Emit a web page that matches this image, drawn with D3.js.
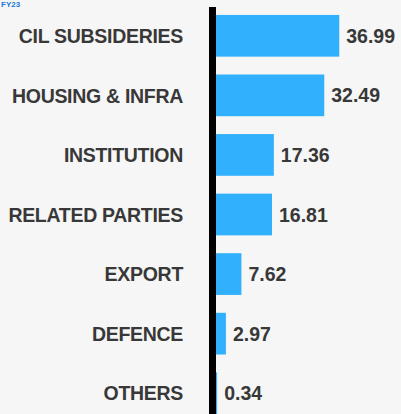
<!DOCTYPE html>
<html><head><meta charset="utf-8">
<script src="https://cdn.jsdelivr.net/npm/d3@7"></script>
<style>
html,body{margin:0;padding:0;background:#f6f6f6;}
svg{display:block;}
</style></head>
<body>
<script>
const categories = ["CIL SUBSIDERIES","HOUSING & INFRA","INSTITUTION","RELATED PARTIES","EXPORT","DEFENCE","OTHERS"];
const values = [36.99, 32.49, 17.36, 16.81, 7.62, 2.97, 0.34];
const valueLabels = ["36.99","32.49","17.36","16.81","7.62","2.97","0.34"];
const titleText = "FY23";

const W = 401, H = 414;
const svg = d3.select("body").append("svg").attr("width", W).attr("height", H);
svg.append("rect").attr("width", W).attr("height", H).attr("fill", "#f6f6f6");

const x0 = 216;
const x = d3.scaleLinear().domain([0, 37]).range([x0, x0 + 123.3]);
const y = d3.scaleBand().domain(categories).range([6, 423]).paddingInner(0.3).paddingOuter(0.15);

svg.append("text").attr("x", 1).attr("y", 7).attr("fill", "#1a7ad4")
  .attr("font-family", "Liberation Sans, Arial, sans-serif").attr("font-weight", "bold")
  .attr("font-size", 8).text(titleText);

svg.selectAll("rect.bar").data(values).join("rect").attr("class","bar")
  .attr("x", x(0)).attr("y", (d,i)=>y(categories[i]))
  .attr("width", d=>x(d)-x(0)).attr("height", y.bandwidth())
  .attr("fill", "#30b0fd");

svg.append("line").attr("x1", 212.5).attr("x2", 212.5).attr("y1", 7).attr("y2", H)
  .attr("stroke", "#000").attr("stroke-width", 7);

svg.selectAll("text.cat").data(categories).join("text").attr("class","cat")
  .attr("x", 183).attr("y", d=>y(d)+y.bandwidth()/2)
  .attr("dy", "0.37em").attr("text-anchor", "end")
  .attr("font-family", "Liberation Sans, Arial, sans-serif").attr("font-weight", "bold")
  .attr("font-size", 19.5).attr("letter-spacing", -0.3).attr("fill", "#383838")
  .text(d=>d);

svg.selectAll("text.val").data(values).join("text").attr("class","val")
  .attr("x", d=>x(d)+7).attr("y", (d,i)=>y(categories[i])+y.bandwidth()/2)
  .attr("dy", "0.36em")
  .attr("font-family", "Liberation Sans, Arial, sans-serif").attr("font-weight", "bold")
  .attr("font-size", 19.5).attr("fill", "#383838")
  .text((d,i)=>valueLabels[i]);
</script>
</body></html>
